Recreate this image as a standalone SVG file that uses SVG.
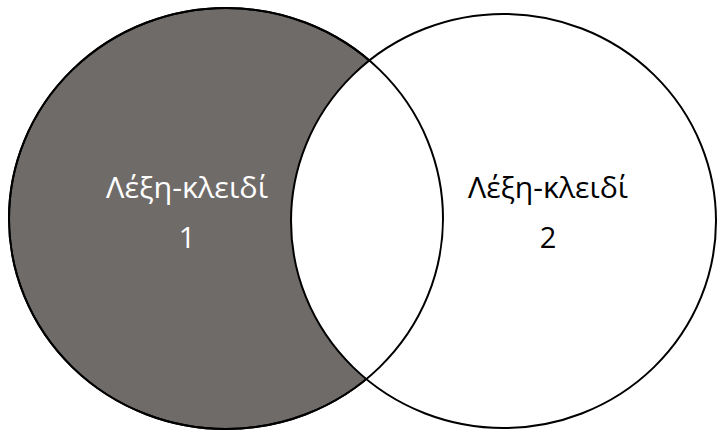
<svg xmlns="http://www.w3.org/2000/svg" width="718" height="432" viewBox="0 0 718 432">
<style>
.edge{fill:none;stroke:#000;stroke-width:2}
.lbl{font-family:"Open Sans","Noto Sans",sans-serif;font-size:29px;text-anchor:middle}
</style>
<rect width="718" height="432" fill="#fff"/>
<g id="set1">
<ellipse cx="226" cy="218.5" rx="217" ry="210.5" fill="#6f6b69" stroke="#000" stroke-width="2"/>
</g>
<g id="set2">
<ellipse cx="503.5" cy="221" rx="212.5" ry="207" fill="#fff" stroke="#000" stroke-width="2"/>
</g>
<g id="set1-outline">
<ellipse class="edge" cx="226" cy="218.5" rx="217" ry="210.5"/>
</g>
<g id="label1">
<text class="lbl" x="187" y="198" fill="#fff" textLength="162" lengthAdjust="spacingAndGlyphs">Λέξη-κλειδί</text>
<text class="lbl" x="187" y="248" fill="#fff">1</text>
</g>
<g id="label2">
<text class="lbl" x="548" y="198" fill="#000" textLength="160" lengthAdjust="spacingAndGlyphs">Λέξη-κλειδί</text>
<text class="lbl" x="548" y="248" fill="#000">2</text>
</g>
</svg>
